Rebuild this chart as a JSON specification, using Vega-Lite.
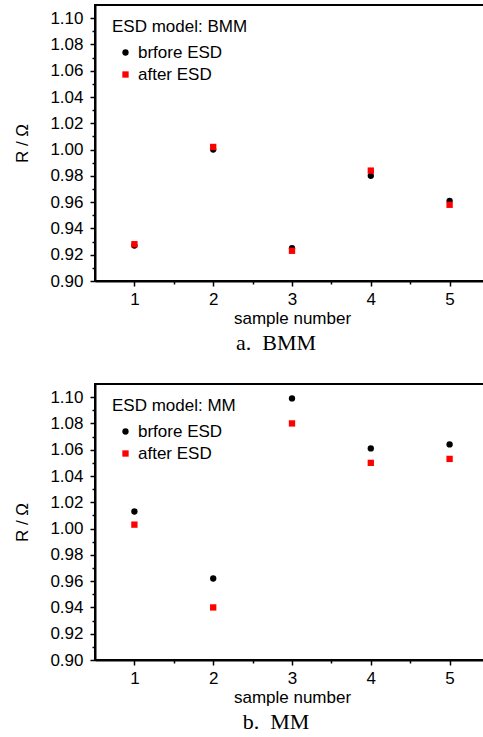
{
  "$schema": "https://vega.github.io/schema/vega-lite/v6.json",
  "background": "white",
  "padding": {"left": 12, "top": 4, "right": 0, "bottom": 0},
  "datasets": {
    "bmm": [
      {"sample": 1, "state": "brfore ESD", "R": 0.927},
      {"sample": 2, "state": "brfore ESD", "R": 1.000},
      {"sample": 3, "state": "brfore ESD", "R": 0.925},
      {"sample": 4, "state": "brfore ESD", "R": 0.980},
      {"sample": 5, "state": "brfore ESD", "R": 0.961},
      {"sample": 1, "state": "after ESD", "R": 0.928},
      {"sample": 2, "state": "after ESD", "R": 1.002},
      {"sample": 3, "state": "after ESD", "R": 0.923},
      {"sample": 4, "state": "after ESD", "R": 0.984},
      {"sample": 5, "state": "after ESD", "R": 0.958}
    ],
    "mm": [
      {"sample": 1, "state": "brfore ESD", "R": 1.013},
      {"sample": 2, "state": "brfore ESD", "R": 0.962},
      {"sample": 3, "state": "brfore ESD", "R": 1.099},
      {"sample": 4, "state": "brfore ESD", "R": 1.061},
      {"sample": 5, "state": "brfore ESD", "R": 1.064},
      {"sample": 1, "state": "after ESD", "R": 1.003},
      {"sample": 2, "state": "after ESD", "R": 0.940},
      {"sample": 3, "state": "after ESD", "R": 1.080},
      {"sample": 4, "state": "after ESD", "R": 1.050},
      {"sample": 5, "state": "after ESD", "R": 1.053}
    ]
  },
  "config": {
    "font": "Liberation Sans, Arial, sans-serif",
    "view": {"stroke": "black", "strokeWidth": 2},
    "axis": {
      "grid": false,
      "domainColor": "black",
      "domainWidth": 2,
      "tickColor": "black",
      "tickWidth": 1.5,
      "labelColor": "black",
      "labelFontSize": 17,
      "titleFontSize": 17,
      "titleFontWeight": "normal",
      "titleColor": "black",
      "labelFlush": false,
      "labelOverlap": false
    },
    "legend": {
      "titleFontSize": 17,
      "labelFontSize": 17,
      "titleFontWeight": "normal",
      "titleColor": "black",
      "labelColor": "black",
      "symbolSize": 40,
      "symbolOffset": 5,
      "labelOffset": 4,
      "padding": 0,
      "titlePadding": 8,
      "rowPadding": 4,
      "symbolStrokeWidth": 0
    }
  },
  "spacing": 28,
  "resolve": {
    "scale": {"color": "independent", "shape": "independent", "x": "independent", "y": "independent"},
    "legend": {"color": "independent", "shape": "independent"}
  },
  "vconcat": [
    {
      "width": 394,
      "height": 276,
      "data": {"name": "bmm"},
      "title": {"text": "a.\u00a0\u00a0BMM", "orient": "bottom", "font": "Liberation Serif", "fontSize": 22, "fontWeight": "normal", "anchor": "middle", "frame": "group", "dx": -16, "offset": 7, "color": "black"},
      "mark": {"type": "point", "filled": true, "opacity": 1, "size": 40},
      "encoding": {
        "x": {"field": "sample", "type": "quantitative", "scale": {"domain": [0.5, 5.5], "nice": false, "zero": false},
          "axis": {"title": "sample number", "values": [1, 1.5, 2, 2.5, 3, 3.5, 4, 4.5, 5],
            "labelExpr": "datum.value % 1 == 0 ? format(datum.value, 'd') : ''",
            "tickSize": {"condition": {"test": "datum.value % 1 == 0", "value": 5}, "value": 3},
            "labelPadding": 5, "titlePadding": 3}},
        "y": {"field": "R", "type": "quantitative", "scale": {"domain": [0.9, 1.11], "nice": false, "zero": false},
          "axis": {"title": "R / Ω", "values": [0.90, 0.91, 0.92, 0.93, 0.94, 0.95, 0.96, 0.97, 0.98, 0.99, 1.00, 1.01, 1.02, 1.03, 1.04, 1.05, 1.06, 1.07, 1.08, 1.09, 1.10],
            "labelExpr": "round(datum.value*100) % 2 == 0 ? format(datum.value, '.2f') : ''",
            "tickSize": {"condition": {"test": "round(datum.value*100) % 2 == 0", "value": 5}, "value": 3},
            "labelPadding": 7, "titlePadding": 18}},
        "color": {"field": "state", "type": "nominal", "scale": {"domain": ["brfore ESD", "after ESD"], "range": ["black", "#ff0000"]},
          "legend": {"title": "ESD model: BMM", "orient": "none", "legendX": 17, "legendY": 14}},
        "shape": {"field": "state", "type": "nominal", "scale": {"domain": ["brfore ESD", "after ESD"], "range": ["circle", "square"]},
          "legend": {"title": "ESD model: BMM", "orient": "none", "legendX": 17, "legendY": 14}}
      }
    },
    {
      "width": 394,
      "height": 276,
      "data": {"name": "mm"},
      "title": {"text": "b.\u00a0\u00a0MM", "orient": "bottom", "font": "Liberation Serif", "fontSize": 22, "fontWeight": "normal", "anchor": "middle", "frame": "group", "dx": -16, "offset": 7, "color": "black"},
      "mark": {"type": "point", "filled": true, "opacity": 1, "size": 40},
      "encoding": {
        "x": {"field": "sample", "type": "quantitative", "scale": {"domain": [0.5, 5.5], "nice": false, "zero": false},
          "axis": {"title": "sample number", "values": [1, 1.5, 2, 2.5, 3, 3.5, 4, 4.5, 5],
            "labelExpr": "datum.value % 1 == 0 ? format(datum.value, 'd') : ''",
            "tickSize": {"condition": {"test": "datum.value % 1 == 0", "value": 5}, "value": 3},
            "labelPadding": 5, "titlePadding": 3}},
        "y": {"field": "R", "type": "quantitative", "scale": {"domain": [0.9, 1.11], "nice": false, "zero": false},
          "axis": {"title": "R / Ω", "values": [0.90, 0.91, 0.92, 0.93, 0.94, 0.95, 0.96, 0.97, 0.98, 0.99, 1.00, 1.01, 1.02, 1.03, 1.04, 1.05, 1.06, 1.07, 1.08, 1.09, 1.10],
            "labelExpr": "round(datum.value*100) % 2 == 0 ? format(datum.value, '.2f') : ''",
            "tickSize": {"condition": {"test": "round(datum.value*100) % 2 == 0", "value": 5}, "value": 3},
            "labelPadding": 7, "titlePadding": 18}},
        "color": {"field": "state", "type": "nominal", "scale": {"domain": ["brfore ESD", "after ESD"], "range": ["black", "#ff0000"]},
          "legend": {"title": "ESD model: MM", "orient": "none", "legendX": 17, "legendY": 14}},
        "shape": {"field": "state", "type": "nominal", "scale": {"domain": ["brfore ESD", "after ESD"], "range": ["circle", "square"]},
          "legend": {"title": "ESD model: MM", "orient": "none", "legendX": 17, "legendY": 14}}
      }
    }
  ]
}
